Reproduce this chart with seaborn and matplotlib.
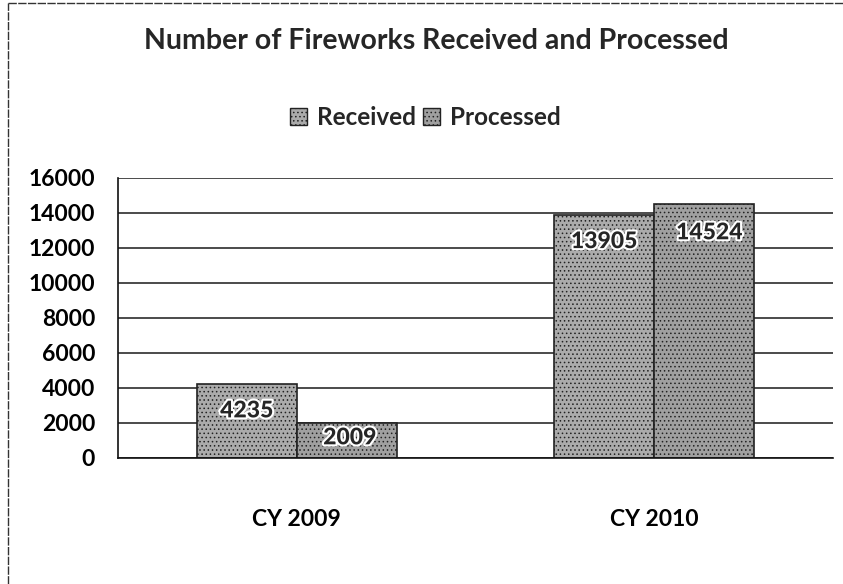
import pandas as pd
import seaborn as sns
import matplotlib.pyplot as plt
import matplotlib.patheffects as pe
from matplotlib.lines import Line2D

years = ["CY 2009", "CY 2010"]
received = [4235, 13905]
processed = [2009, 14524]
series = ["Received", "Processed"]
yticks = [0, 2000, 4000, 6000, 8000, 10000, 12000, 14000, 16000]
colors = ["#ababab", "#a0a0a0"]

df = pd.DataFrame({
    "year": years * 2,
    "count": received + processed,
    "status": [series[0]] * len(years) + [series[1]] * len(years),
})

sns.set_style("white")
plt.rcParams["font.family"] = ["Lato", "DejaVu Sans"]
plt.rcParams["hatch.color"] = "#6a6a6a"
plt.rcParams["hatch.linewidth"] = 0.6

fig = plt.figure(figsize=(8.43, 5.84), dpi=100)
ax = fig.add_axes([0.14, 0.2158, 0.848, 0.4795])

sns.barplot(data=df, x="year", y="count", hue="status", order=years,
            hue_order=series, palette=colors, width=0.56,
            edgecolor="#222222", linewidth=1.2, ax=ax)

# halftone-ish texture like the scan
for bar in ax.patches:
    bar.set_hatch("....")

ax.set_ylim(0, 16000)
ax.set_xlim(-0.5, 1.5)
ax.set_yticks(yticks)
ax.yaxis.grid(True, color="#1a1a1a", linewidth=1.1)
ax.set_axisbelow(True)
ax.set_xlabel("")
ax.set_ylabel("")
for s in ["top", "right"]:
    ax.spines[s].set_visible(False)
for s in ["left", "bottom"]:
    ax.spines[s].set_color("#111111")
    ax.spines[s].set_linewidth(1.2)

ax.tick_params(axis="y", direction="inout", length=9, width=1, colors="#111111",
               labelsize=16.5, pad=12, labelcolor="black")
ax.tick_params(axis="x", length=0, labelsize=16.5, pad=37, labelcolor="black")
for t in ax.get_yticklabels() + ax.get_xticklabels():
    t.set_fontweight("bold")
ax.set_xticks([-0.5, 0.5, 1.5], minor=True)
ax.tick_params(axis="x", which="minor", direction="out", length=6, width=1, colors="#111111")

# value labels, nudged by hand like the original
# patch order: received 2009, received 2010, processed 2009, processed 2010
offsets = [(0, -27), (0, -27), (3, -15), (5, -29)]
for p, (dx, dy) in zip(ax.patches[:4], offsets):
    h = p.get_height()
    ax.annotate(f"{int(h)}", (p.get_x() + p.get_width() / 2, h),
                xytext=(dx, dy), textcoords="offset pixels",
                ha="center", va="center", fontsize=16.5, fontweight="black",
                path_effects=[pe.withStroke(linewidth=3, foreground="white")])

ax.legend_.remove()
handles = [plt.Rectangle((0, 0), 1, 1, fc=c, ec="#222222", hatch="....")
           for c in colors]
fig.legend(handles, series, loc="center", bbox_to_anchor=(0.505, 0.798),
           ncol=2, frameon=False, handlelength=0.7, handleheight=0.7,
           handletextpad=0.4, columnspacing=0.3, prop={"weight": "bold", "size": 17.5})

fig.text(0.518, 0.93, "Number of Fireworks Received and Processed",
         ha="center", va="center", fontsize=20.5, fontweight="bold")

# scanned page frame
fig.add_artist(Line2D([0.0095, 0.0095], [0, 0.995], color="#333333", lw=1, ls=(0, (6, 1))))
fig.add_artist(Line2D([0.0095, 1], [0.995, 0.995], color="#333333", lw=1, ls=(0, (6, 1))))

fig.savefig("out.png", dpi=100)
